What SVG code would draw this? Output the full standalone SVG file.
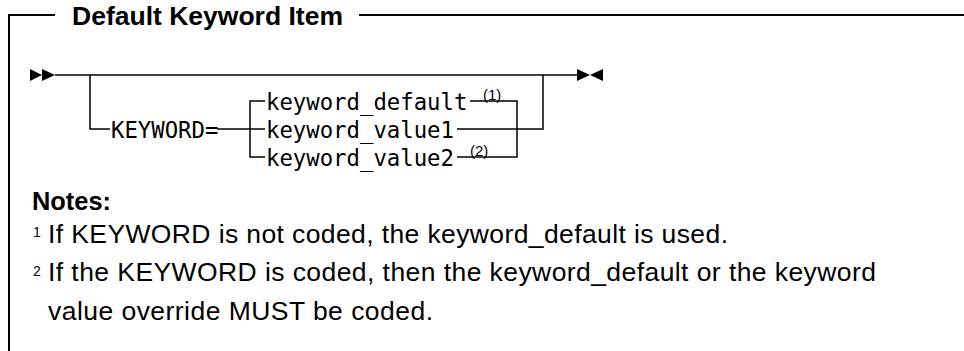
<svg xmlns="http://www.w3.org/2000/svg" width="964" height="351" viewBox="0 0 964 351">
<style>
.frame{fill:none;stroke:#000;stroke-width:2}
.ln{fill:none;stroke:#000;stroke-width:1.5}
.arr{fill:#000;stroke:none}
.title{font-family:"Liberation Sans",Arial,sans-serif;font-weight:bold;font-size:26.5px;fill:#000}
.mono{font-family:"DejaVu Sans Mono","Liberation Mono",monospace;font-size:22.3px;fill:#000}
.ref{font-family:"Liberation Sans",Arial,sans-serif;font-size:15px;fill:#000}
.nh{font-family:"Liberation Sans",Arial,sans-serif;font-weight:bold;font-size:25.4px;fill:#000}
.nt{font-family:"Liberation Sans",Arial,sans-serif;font-size:26.5px;fill:#000}
.sup{font-family:"Liberation Sans",Arial,sans-serif;font-size:14px;fill:#000}
</style>
<rect width="964" height="351" fill="#fff"/>
<g id="frame">
<path class="frame" d="M9,351 V15 H55 M359,15 H964"/>
<text class="title" x="72" y="25">Default Keyword Item</text>
</g>
<g id="connectors">
<path class="ln" d="M55,75 H577"/>
<path class="ln" d="M90,75 V129 H110"/>
<path class="ln" d="M217,129 H265"/>
<path class="ln" d="M265,101 H250 V157 H265"/>
<path class="ln" d="M470,101 H517 V157 H457"/>
<path class="ln" d="M457,129 H543 V75"/>
</g>
<g id="start">
<path class="arr" d="M30,69 L42,75 L30,81 Z M42,69 L55,75 L42,81 Z"/>
</g>
<g id="end">
<path class="arr" d="M577,69 L590,75 L577,81 Z M603,69 L590,75 L603,81 Z"/>
</g>
<g id="keyword">
<text class="mono" x="111" y="137.5">KEYWORD=</text>
</g>
<g id="keyword_default">
<text class="mono" x="266" y="109.5">keyword_default</text>
<text class="ref" x="483" y="100">(1)</text>
</g>
<g id="keyword_value1">
<text class="mono" x="266" y="137.5">keyword_value1</text>
</g>
<g id="keyword_value2">
<text class="mono" x="266" y="165.5">keyword_value2</text>
<text class="ref" x="470" y="156">(2)</text>
</g>
<g id="notes">
<text class="nh" x="32" y="210">Notes:</text>
<text class="sup" x="33" y="237">1</text>
<text class="nt" x="48" y="242.5" textLength="680" lengthAdjust="spacing">If KEYWORD is not coded, the keyword_default is used.</text>
<text class="sup" x="33" y="276">2</text>
<text class="nt" x="48" y="281" textLength="828" lengthAdjust="spacing">If the KEYWORD is coded, then the keyword_default or the keyword</text>
<text class="nt" x="48" y="320" textLength="385" lengthAdjust="spacing">value override MUST be coded.</text>
</g>
</svg>
